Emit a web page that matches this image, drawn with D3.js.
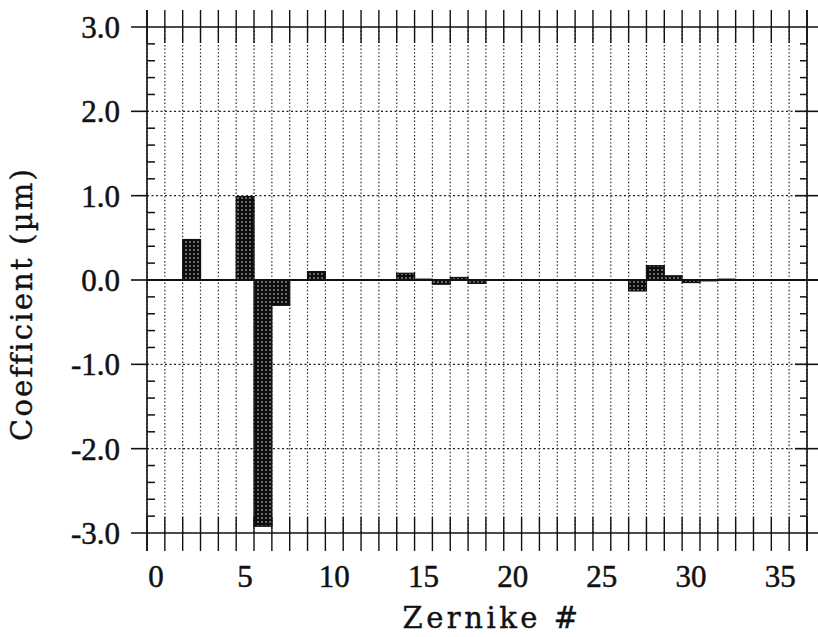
<!DOCTYPE html>
<html>
<head>
<meta charset="utf-8">
<script src="https://cdn.jsdelivr.net/npm/d3@7"></script>
<style>
  body { margin: 0; background: #fff; }
  #chart { width: 818px; height: 637px; }
  text { fill: #111; }
</style>
</head>
<body>
<div id="chart"></div>
<script>
// Zernike terms 0..36 and their coefficients (µm)
const zernike = d3.range(37);
const coefficients = [
  0, 0, 0.48, 0, 0, 0.99, -2.92, -0.30, 0, 0.10,
  0, 0, 0, 0, 0.08, 0.01, -0.05, 0.03, -0.04, 0,
  0, 0, 0, 0, 0, 0, 0, -0.13, 0.17, 0.05,
  -0.03, -0.01, 0.01, 0, 0, 0, 0
];
const xTickLabels = [0, 5, 10, 15, 20, 25, 30, 35];
const yMajor = [-3, -2, -1, 0, 1, 2, 3];

const data = zernike.map((z, i) => ({ z: z, value: coefficients[i] }));

const width = 818, height = 637;
const margin = { top: 27, right: 10, bottom: 104, left: 147 };

const svg = d3.select('#chart').append('svg')
    .attr('width', width)
    .attr('height', height);

// dotted fill like the original halftone
const defs = svg.append('defs');
const pat = defs.append('pattern')
    .attr('id', 'dots')
    .attr('patternUnits', 'userSpaceOnUse')
    .attr('width', 4).attr('height', 4);
pat.append('rect').attr('width', 4).attr('height', 4).attr('fill', '#0d0d0d');
pat.append('circle').attr('cx', 2).attr('cy', 2).attr('r', 0.8).attr('fill', '#ddd');

const x = d3.scaleBand()
    .domain(zernike)
    .range([margin.left, width - margin.right - 1])
    .padding(0);

const y = d3.scaleLinear()
    .domain([-3, 3])
    .range([height - margin.bottom, margin.top]);

const x0 = x.range()[0], x1 = x.range()[1];
const edges = zernike.map(d => x(d)).concat([x1]);

const grid = svg.append('g');

// vertical dotted grid at bin edges
grid.selectAll('.vgrid')
    .data(edges)
    .enter().append('line')
    .attr('x1', d => d).attr('x2', d => d)
    .attr('y1', y(3)).attr('y2', y(-3))
    .attr('stroke', '#222')
    .attr('stroke-width', 1.2)
    .attr('stroke-dasharray', '1.4,2.2');

// horizontal dotted grid at +-1, +-2
grid.selectAll('.hgrid')
    .data(yMajor.filter(d => Math.abs(d) === 1 || Math.abs(d) === 2))
    .enter().append('line')
    .attr('x1', x0).attr('x2', x1)
    .attr('y1', d => y(d)).attr('y2', d => y(d))
    .attr('stroke', '#222')
    .attr('stroke-width', 1.3)
    .attr('stroke-dasharray', '2,2.5');

// bars
svg.selectAll('.bar')
    .data(data.filter(d => d.value !== 0))
    .enter().append('rect')
    .attr('class', 'bar')
    .attr('x', d => x(d.z))
    .attr('width', x.bandwidth())
    .attr('y', d => y(Math.max(0, d.value)))
    .attr('height', d => Math.abs(y(d.value) - y(0)))
    .attr('fill', 'url(#dots)')
    .attr('stroke', '#111')
    .attr('stroke-width', 1.2);

const frame = svg.append('g').attr('stroke', '#111');

// solid horizontal lines: top, zero, bottom
frame.selectAll('.hsolid')
    .data([3, 0, -3])
    .enter().append('line')
    .attr('x1', d => d === 0 ? x0 : 131)
    .attr('x2', 818)
    .attr('y1', d => y(d)).attr('y2', d => y(d))
    .attr('stroke-width', d => d === 0 ? 2 : 1.6);

// outer major ticks on left and right
frame.selectAll('.lmaj')
    .data([-2, -1, 0, 1, 2])
    .enter().append('line')
    .attr('x1', 131).attr('x2', x0)
    .attr('y1', d => y(d)).attr('y2', d => y(d))
    .attr('stroke-width', 1.6);
frame.selectAll('.rmaj')
    .data([-2, -1, 1, 2])
    .enter().append('line')
    .attr('x1', x1 - 12).attr('x2', 818)
    .attr('y1', d => y(d)).attr('y2', d => y(d))
    .attr('stroke-width', 1.6);

// minor ticks every 0.2
const minor = d3.range(-3, 3.001, 0.2).filter(v => Math.abs(v - Math.round(v)) > 0.01);
frame.selectAll('.lmin')
    .data(minor)
    .enter().append('line')
    .attr('x1', x0).attr('x2', x0 + 8)
    .attr('y1', d => y(d)).attr('y2', d => y(d))
    .attr('stroke-width', 1.5);
frame.selectAll('.rmin')
    .data(minor)
    .enter().append('line')
    .attr('x1', x1 - 7).attr('x2', x1)
    .attr('y1', d => y(d)).attr('y2', d => y(d))
    .attr('stroke-width', 1.5);

// left / right axis lines
frame.selectAll('.vaxis')
    .data([x0, x1])
    .enter().append('line')
    .attr('x1', d => d).attr('x2', d => d)
    .attr('y1', 10).attr('y2', 551)
    .attr('stroke-width', 1.6);

// top and bottom ticks at bin edges
frame.selectAll('.ttick')
    .data(edges)
    .enter().append('line')
    .attr('x1', d => d).attr('x2', d => d)
    .attr('y1', 10).attr('y2', 43)
    .attr('stroke-width', 1.4);
frame.selectAll('.btick')
    .data(edges)
    .enter().append('line')
    .attr('x1', d => d).attr('x2', d => d)
    .attr('y1', 517).attr('y2', 551)
    .attr('stroke-width', 1.4);

const tickFont = '"Liberation Serif", "Times New Roman", serif';

// y tick labels
const yAxis = d3.axisLeft(y)
    .tickValues(yMajor)
    .tickSize(0)
    .tickPadding(0)
    .tickFormat(d => d.toFixed(1));
const gy = svg.append('g')
    .attr('transform', 'translate(120,0)')
    .call(yAxis);
gy.select('.domain').remove();
gy.selectAll('text')
    .attr('dy', '0.34em')
    .style('font-family', tickFont)
    .style('font-size', '31px')
    .style('stroke', '#111')
    .style('stroke-width', '0.5px')
    .attr('fill', '#111');

// x tick labels
const xAxis = d3.axisBottom(x)
    .tickValues(xTickLabels)
    .tickSize(0)
    .tickFormat(d => d);
const gx = svg.append('g')
    .attr('transform', `translate(0,${y(-3)})`)
    .call(xAxis);
gx.select('.domain').remove();
gx.selectAll('text')
    .attr('y', 54)
    .attr('dy', null)
    .style('font-family', tickFont)
    .style('font-size', '31px')
    .style('stroke', '#111')
    .style('stroke-width', '0.5px')
    .attr('fill', '#111');

// axis titles
svg.append('text')
    .attr('x', 492)
    .attr('y', 628)
    .attr('text-anchor', 'middle')
    .style('font-family', '"DejaVu Serif", serif')
    .style('font-size', '29px')
    .style('letter-spacing', '3.5px')
    .style('stroke', '#111')
    .style('stroke-width', '0.4px')
    .text('Zernike #');

svg.append('text')
    .attr('transform', 'translate(32,304) rotate(-90)')
    .attr('text-anchor', 'middle')
    .style('font-family', '"DejaVu Serif", serif')
    .style('font-size', '29px')
    .style('letter-spacing', '2.2px')
    .style('stroke', '#111')
    .style('stroke-width', '0.4px')
    .text('Coefficient (µm)');
</script>
</body>
</html>
